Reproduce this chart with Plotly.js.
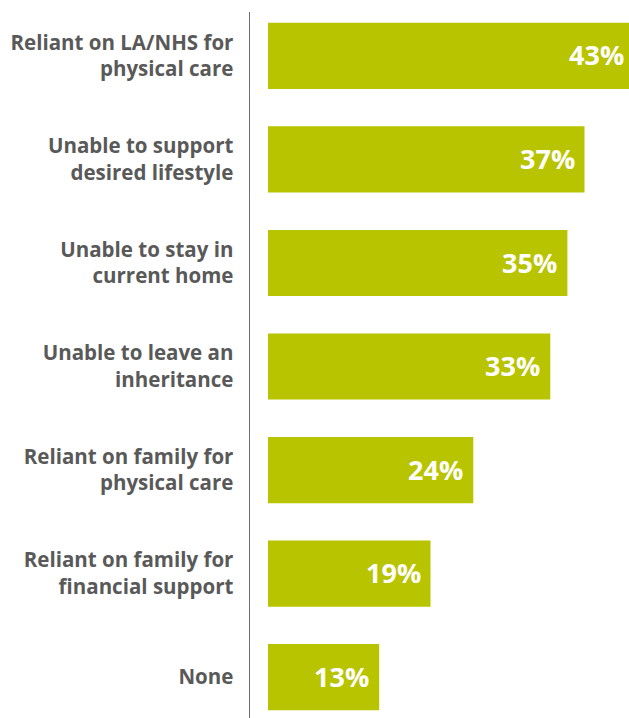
<!DOCTYPE html>
<html><head><meta charset="utf-8">
<script src="https://cdn.plot.ly/plotly-3.0.1.min.js"></script>
<style>html,body{margin:0;padding:0;background:#fff}#chart{width:629px;height:718px}</style>
</head><body><div id="chart"></div>
<script>
const categories = [
  "Reliant on LA/NHS for<br>physical care",
  "Unable to support<br>desired lifestyle",
  "Unable to stay in<br>current home",
  "Unable to leave an<br>inheritance",
  "Reliant on family for<br>physical care",
  "Reliant on family for<br>financial support",
  "None"
];
const values = [43, 37, 35, 33, 24, 19, 13];
const labels = ["43%", "37%", "35%", "33%", "24%", "19%", "13%"];

const xMin = -2.1, xMax = 42.2;
const barColor = "#b9c400";

const annotations = values.map((v, i) => ({
  x: Math.min(v, xMax), y: categories[i], xref: "x", yref: "y",
  text: labels[i], showarrow: false, xanchor: "right", yanchor: "middle",
  xshift: v > xMax ? -3 : -8, yshift: 1,
  font: {family: "Open Sans", size: 27, color: "#ffffff", weight: 700}
}));

Plotly.newPlot("chart", [{
  type: "bar", orientation: "h",
  y: categories, x: values, base: 0,
  width: 0.64,
  marker: {color: barColor, line: {width: 0}},
  hoverinfo: "none"
}], {
  width: 629, height: 718,
  margin: {l: 250, r: 0, t: 12, b: 0},
  paper_bgcolor: "#fff", plot_bgcolor: "#fff",
  showlegend: false,
  xaxis: {range: [xMin, xMax], visible: false, fixedrange: true},
  yaxis: {
    type: "category", range: [6.396, -0.425],
    showline: true, linecolor: "#6e6e6e", linewidth: 1.5,
    showgrid: false, zeroline: false,
    ticks: "outside", ticklen: 11, tickcolor: "rgba(0,0,0,0)",
    tickfont: {family: "Open Sans", size: 20.5, color: "#595959", weight: 700}
  },
  annotations: annotations
}, {staticPlot: true});
</script></body></html>
